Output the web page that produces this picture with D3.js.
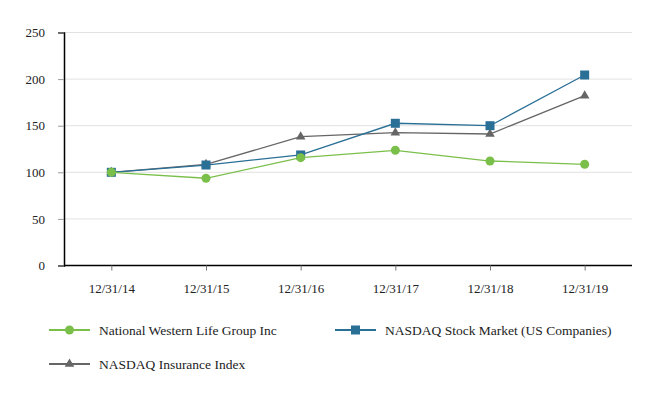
<!DOCTYPE html>
<html>
<head>
<meta charset="utf-8">
<script src="https://cdn.jsdelivr.net/npm/d3@7"></script>
<style>
  body { margin: 0; background: #fff; }
  text { font-family: "Liberation Serif", "Times New Roman", serif; fill: #222; }
</style>
</head>
<body>
<svg id="chart" width="666" height="400"></svg>
<script>
var dates = ["12/31/14", "12/31/15", "12/31/16", "12/31/17", "12/31/18", "12/31/19"];
var nwlValues = [100, 93.6, 115.7, 123.6, 112.1, 108.6];
var nasdaqValues = [100, 107.8, 118.6, 152.6, 150.0, 204.4];
var insuranceValues = [100, 108.5, 138.2, 142.5, 141.1, 182.2];
var yTicks = [0, 50, 100, 150, 200, 250];

var series = [
    { name: "National Western Life Group Inc", values: nwlValues, color: "#7bbf4b", marker: "circle" },
    { name: "NASDAQ Stock Market (US Companies)", values: nasdaqValues, color: "#2a6f96", marker: "square" },
    { name: "NASDAQ Insurance Index", values: insuranceValues, color: "#666666", marker: "triangle" }
];

var plotLeft = 64, plotRight = 632, plotTop = 32.5, plotBottom = 265.5;

var svg = d3.select("#chart");

var x = d3.scalePoint().domain(dates).range([plotLeft, plotRight]).padding(0.5);
var y = d3.scaleLinear().domain([0, 250]).range([plotBottom, plotTop]);

// gridlines
svg.append("g").selectAll("line").data(yTicks.filter(function(d) { return d > 0; })).enter().append("line")
   .attr("x1", plotLeft).attr("x2", plotRight)
   .attr("y1", function(d) { return y(d); }).attr("y2", function(d) { return y(d); })
   .attr("stroke", "#e2e2e2").attr("stroke-width", 1);

// y axis
var yAxis = svg.append("g").attr("transform", "translate(" + plotLeft + ",0)")
   .call(d3.axisLeft(y).tickValues(yTicks).tickSize(6).tickPadding(13));
yAxis.select(".domain").attr("stroke", "#000").attr("stroke-width", 1.5);
yAxis.selectAll(".tick line").attr("stroke", "#999");
yAxis.selectAll("text").attr("font-size", "13px").attr("font-family", "Liberation Serif").attr("fill", "#222");

// x axis
var xAxis = svg.append("g").attr("transform", "translate(0," + plotBottom + ")")
   .call(d3.axisBottom(x).tickSizeInner(5).tickSizeOuter(0).tickPadding(13));
xAxis.select(".domain").attr("stroke", "#000").attr("stroke-width", 1.5)
   .attr("d", "M" + plotLeft + ",0H" + plotRight);
xAxis.selectAll(".tick line").attr("stroke", "#777");
xAxis.selectAll("text").attr("font-size", "13px").attr("font-family", "Liberation Serif").attr("fill", "#222");

function drawMarker(g, type, color) {
    if (type == "circle") {
        g.append("circle").attr("r", 4.5).attr("fill", color);
    } else if (type == "square") {
        g.append("rect").attr("x", -4.5).attr("y", -4.5).attr("width", 9).attr("height", 9).attr("fill", color);
    } else {
        g.append("path").attr("d", d3.symbol().type(d3.symbolTriangle).size(40)).attr("fill", color);
    }
}

var line = d3.line()
    .x(function(d, i) { return x(dates[i]); })
    .y(function(d) { return y(d); });

// draw in reverse so the green series sits on top at the start
series.slice().reverse().forEach(function(s) {
    svg.append("path").datum(s.values)
       .attr("d", line).attr("fill", "none")
       .attr("stroke", s.color).attr("stroke-width", 1.3);
    s.values.forEach(function(v, i) {
        var g = svg.append("g").attr("transform", "translate(" + x(dates[i]) + "," + y(v) + ")");
        drawMarker(g, s.marker, s.color);
    });
});

// legend
var legendPos = [[49, 330], [335, 330], [49, 364]];
series.forEach(function(s, i) {
    var p = legendPos[i];
    var g = svg.append("g").attr("transform", "translate(" + p[0] + "," + p[1] + ")");
    g.append("line").attr("x1", 0).attr("x2", 41).attr("stroke", s.color).attr("stroke-width", 1.8);
    var m = g.append("g").attr("transform", "translate(20.5,0)");
    drawMarker(m, s.marker, s.color);
    g.append("text").attr("x", 50).attr("y", 0).attr("dy", "0.35em")
     .attr("font-size", "13.5px").text(s.name);
});
</script>
</body>
</html>
